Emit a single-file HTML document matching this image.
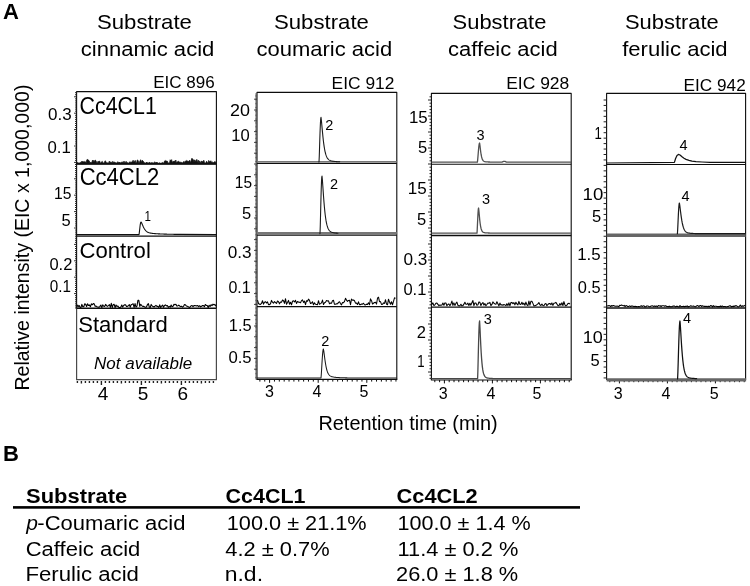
<!DOCTYPE html>
<html><head><meta charset="utf-8"><title>Figure</title>
<style>html,body{margin:0;padding:0;background:#fff}svg{display:block}text{font-family:"Liberation Sans",sans-serif;fill:#000}</style>
</head><body>
<svg width="750" height="586" viewBox="0 0 750 586">
<rect width="750" height="586" fill="#fff"/>
<text transform="translate(2.93,18.80) scale(1.0000,1)" font-size="22" font-weight="bold">A</text>
<text transform="translate(97.00,28.60) scale(1.1085,1)" font-size="20">Substrate</text>
<text transform="translate(80.72,55.50) scale(1.1033,1)" font-size="20">cinnamic acid</text>
<text transform="translate(274.00,28.60) scale(1.1085,1)" font-size="20">Substrate</text>
<text transform="translate(256.52,55.50) scale(1.1005,1)" font-size="20">coumaric acid</text>
<text transform="translate(452.61,28.60) scale(1.0965,1)" font-size="20">Substrate</text>
<text transform="translate(448.12,55.50) scale(1.0993,1)" font-size="20">caffeic acid</text>
<text transform="translate(625.01,28.60) scale(1.0965,1)" font-size="20">Substrate</text>
<text transform="translate(622.18,55.50) scale(1.1040,1)" font-size="20">ferulic acid</text>
<text transform="translate(153.24,88.00) scale(1.0192,1)" font-size="16.7">EIC 896</text>
<text transform="translate(331.61,88.60) scale(1.0412,1)" font-size="16.7">EIC 912</text>
<text transform="translate(506.20,88.80) scale(1.0466,1)" font-size="16.7">EIC 928</text>
<text transform="translate(683.62,91.00) scale(1.0309,1)" font-size="16.7">EIC 942</text>
<text transform="translate(29.00,390.56) rotate(-90) scale(1.0070,1)" font-size="19.4">Relative intensity (EIC x 1,000,000)</text>
<text transform="translate(318.41,429.80) scale(1.0222,1)" font-size="19.5">Retention time (min)</text>
<path d="M76.6 308V91.6H216.4V308" fill="none" stroke="#0d0d0d" stroke-width="1.1" stroke-linejoin="round"/>
<path d="M76.6 308V379.7H216.4V308" fill="none" stroke="#4a4a4a" stroke-width="1.2" stroke-linejoin="round"/>
<line x1="76.60" y1="164.00" x2="216.40" y2="164.00" stroke="#0d0d0d" stroke-width="1.5"/>
<line x1="76.60" y1="236.10" x2="216.40" y2="236.10" stroke="#0d0d0d" stroke-width="1.2"/>
<line x1="76.60" y1="308.30" x2="216.40" y2="308.30" stroke="#0d0d0d" stroke-width="1.4"/>
<path d="M77.40 381.0v1.9M81.40 381.0v2.6M85.40 381.0v1.9M89.40 381.0v1.9M93.40 381.0v1.9M97.40 381.0v1.9M101.40 381.0v4.0M105.40 381.0v1.9M109.40 381.0v1.9M113.40 381.0v1.9M117.40 381.0v1.9M121.40 381.0v2.6M125.40 381.0v1.9M129.40 381.0v1.9M133.40 381.0v1.9M137.40 381.0v1.9M141.40 381.0v4.0M145.40 381.0v1.9M149.40 381.0v1.9M153.40 381.0v1.9M157.40 381.0v1.9M161.40 381.0v2.6M165.40 381.0v1.9M169.40 381.0v1.9M173.40 381.0v1.9M177.40 381.0v1.9M181.40 381.0v4.0M185.40 381.0v1.9M189.40 381.0v1.9M193.40 381.0v1.9M197.40 381.0v1.9M201.40 381.0v2.6M205.40 381.0v1.9M209.40 381.0v1.9M213.40 381.0v1.9" fill="none" stroke="#222" stroke-width="1.4" stroke-linejoin="round"/>
<text transform="translate(97.78,399.60) scale(1.0000,1)" font-size="19">4</text>
<text transform="translate(137.83,399.60) scale(1.0000,1)" font-size="19">5</text>
<text transform="translate(177.53,399.60) scale(1.0000,1)" font-size="19">6</text>
<path d="M257 379.4V92.4H396.8V379.4" fill="none" stroke="#0d0d0d" stroke-width="1.1" stroke-linejoin="round"/>
<line x1="256.50" y1="379.40" x2="397.30" y2="379.40" stroke="#0d0d0d" stroke-width="1.2"/>
<line x1="257.00" y1="163.30" x2="396.80" y2="163.30" stroke="#0d0d0d" stroke-width="1.2"/>
<line x1="257.00" y1="235.10" x2="396.80" y2="235.10" stroke="#0d0d0d" stroke-width="1.2"/>
<line x1="257.00" y1="306.60" x2="396.80" y2="306.60" stroke="#0d0d0d" stroke-width="1.3"/>
<path d="M259.88 379.4v2.2M264.74 379.4v2.2M269.60 379.4v3.4M274.46 379.4v2.2M279.32 379.4v2.2M284.18 379.4v2.2M289.04 379.4v2.2M293.90 379.4v2.2M298.76 379.4v2.2M303.62 379.4v2.2M308.48 379.4v2.2M313.34 379.4v2.2M318.20 379.4v3.4M323.06 379.4v2.2M327.92 379.4v2.2M332.78 379.4v2.2M337.64 379.4v2.2M342.50 379.4v2.2M347.36 379.4v2.2M352.22 379.4v2.2M357.08 379.4v2.2M361.94 379.4v2.2M366.80 379.4v3.4M371.66 379.4v2.2M376.52 379.4v2.2M381.38 379.4v2.2M386.24 379.4v2.2M391.10 379.4v2.2M395.96 379.4v2.2" fill="none" stroke="#0d0d0d" stroke-width="1" stroke-linejoin="round"/>
<text transform="translate(265.10,397.20) scale(1.0000,1)" font-size="16">3</text>
<text transform="translate(312.60,397.20) scale(1.0000,1)" font-size="16">4</text>
<text transform="translate(359.56,397.20) scale(1.0000,1)" font-size="16">5</text>
<path d="M431.4 380.0V93.4H571.2V380.0" fill="none" stroke="#0d0d0d" stroke-width="1.1" stroke-linejoin="round"/>
<line x1="430.90" y1="380.00" x2="571.70" y2="380.00" stroke="#0d0d0d" stroke-width="1.2"/>
<line x1="431.40" y1="164.30" x2="571.20" y2="164.30" stroke="#0d0d0d" stroke-width="1.1"/>
<line x1="431.40" y1="235.50" x2="571.20" y2="235.50" stroke="#0d0d0d" stroke-width="1.3"/>
<line x1="431.40" y1="307.20" x2="571.20" y2="307.20" stroke="#0d0d0d" stroke-width="1.3"/>
<path d="M434.80 380.0v2.2M439.60 380.0v2.2M444.40 380.0v3.4M449.20 380.0v2.2M454.00 380.0v2.2M458.80 380.0v2.2M463.60 380.0v2.2M468.40 380.0v2.2M473.20 380.0v2.2M478.00 380.0v2.2M482.80 380.0v2.2M487.60 380.0v2.2M492.40 380.0v3.4M497.20 380.0v2.2M502.00 380.0v2.2M506.80 380.0v2.2M511.60 380.0v2.2M516.40 380.0v2.2M521.20 380.0v2.2M526.00 380.0v2.2M530.80 380.0v2.2M535.60 380.0v2.2M540.40 380.0v3.4M545.20 380.0v2.2M550.00 380.0v2.2M554.80 380.0v2.2M559.60 380.0v2.2M564.40 380.0v2.2M569.20 380.0v2.2" fill="none" stroke="#0d0d0d" stroke-width="1" stroke-linejoin="round"/>
<text transform="translate(438.70,398.60) scale(1.0000,1)" font-size="16">3</text>
<text transform="translate(486.50,398.60) scale(1.0000,1)" font-size="16">4</text>
<text transform="translate(532.56,398.60) scale(1.0000,1)" font-size="16">5</text>
<path d="M606.6 380.0V93.4H745.6V380.0" fill="none" stroke="#0d0d0d" stroke-width="1.1" stroke-linejoin="round"/>
<line x1="606.10" y1="380.00" x2="746.10" y2="380.00" stroke="#666" stroke-width="0.1"/>
<line x1="606.60" y1="164.50" x2="745.60" y2="164.50" stroke="#0d0d0d" stroke-width="1.2"/>
<line x1="606.60" y1="308.10" x2="745.60" y2="308.10" stroke="#0d0d0d" stroke-width="1.5"/>
<path d="M609.80 380.0v2.2M614.60 380.0v2.2M619.40 380.0v3.4M624.20 380.0v2.2M629.00 380.0v2.2M633.80 380.0v2.2M638.60 380.0v2.2M643.40 380.0v2.2M648.20 380.0v2.2M653.00 380.0v2.2M657.80 380.0v2.2M662.60 380.0v2.2M667.40 380.0v3.4M672.20 380.0v2.2M677.00 380.0v2.2M681.80 380.0v2.2M686.60 380.0v2.2M691.40 380.0v2.2M696.20 380.0v2.2M701.00 380.0v2.2M705.80 380.0v2.2M710.60 380.0v2.2M715.40 380.0v3.4M720.20 380.0v2.2M725.00 380.0v2.2M729.80 380.0v2.2M734.60 380.0v2.2M739.40 380.0v2.2M744.20 380.0v2.2" fill="none" stroke="#0d0d0d" stroke-width="1" stroke-linejoin="round"/>
<text transform="translate(613.70,398.60) scale(1.0000,1)" font-size="16">3</text>
<text transform="translate(661.60,398.60) scale(1.0000,1)" font-size="16">4</text>
<text transform="translate(709.76,398.60) scale(1.0000,1)" font-size="16">5</text>
<path d="M76.60 92.70h-1.6M76.60 94.75h-1.6M76.60 96.80h-2.5M76.60 98.85h-1.6M76.60 100.90h-1.6M76.60 102.95h-1.6M76.60 105.00h-1.6M76.60 107.05h-1.6M76.60 109.10h-1.6M76.60 111.15h-1.6M76.60 113.20h-2.5M76.60 115.25h-1.6M76.60 117.30h-1.6M76.60 119.35h-1.6M76.60 121.40h-1.6M76.60 123.45h-1.6M76.60 125.50h-1.6M76.60 127.55h-1.6M76.60 129.60h-2.5M76.60 131.65h-1.6M76.60 133.70h-1.6M76.60 135.75h-1.6M76.60 137.80h-1.6M76.60 139.85h-1.6M76.60 141.90h-1.6M76.60 143.95h-1.6M76.60 146.00h-2.5M76.60 148.05h-1.6M76.60 150.10h-1.6M76.60 152.15h-1.6M76.60 154.20h-1.6M76.60 156.25h-1.6M76.60 158.30h-1.6M76.60 160.35h-1.6M76.60 162.40h-2.5M76.60 164.45h-1.6M76.60 166.50h-1.6M76.60 168.55h-1.6M76.60 170.60h-1.6M76.60 172.65h-1.6M76.60 174.70h-1.6M76.60 176.75h-1.6M76.60 178.80h-2.5M76.60 180.85h-1.6M76.60 182.90h-1.6M76.60 184.95h-1.6M76.60 187.00h-1.6M76.60 189.05h-1.6M76.60 191.10h-1.6M76.60 193.15h-1.6M76.60 195.20h-2.5M76.60 197.25h-1.6M76.60 199.30h-1.6M76.60 201.35h-1.6M76.60 203.40h-1.6M76.60 205.45h-1.6M76.60 207.50h-1.6M76.60 209.55h-1.6M76.60 211.60h-2.5M76.60 213.65h-1.6M76.60 215.70h-1.6M76.60 217.75h-1.6M76.60 219.80h-1.6M76.60 221.85h-1.6M76.60 223.90h-1.6M76.60 225.95h-1.6M76.60 228.00h-2.5M76.60 230.05h-1.6M76.60 232.10h-1.6M76.60 234.15h-1.6M76.60 236.20h-1.6M76.60 238.25h-1.6M76.60 240.30h-1.6M76.60 242.35h-1.6M76.60 244.40h-2.5M76.60 246.45h-1.6M76.60 248.50h-1.6M76.60 250.55h-1.6M76.60 252.60h-1.6M76.60 254.65h-1.6M76.60 256.70h-1.6M76.60 258.75h-1.6M76.60 260.80h-2.5M76.60 262.85h-1.6M76.60 264.90h-1.6M76.60 266.95h-1.6M76.60 269.00h-1.6M76.60 271.05h-1.6M76.60 273.10h-1.6M76.60 275.15h-1.6M76.60 277.20h-2.5M76.60 279.25h-1.6M76.60 281.30h-1.6M76.60 283.35h-1.6M76.60 285.40h-1.6M76.60 287.45h-1.6M76.60 289.50h-1.6M76.60 291.55h-1.6M76.60 293.60h-2.5M76.60 295.65h-1.6M76.60 297.70h-1.6M76.60 299.75h-1.6M76.60 301.80h-1.6M76.60 303.85h-1.6M76.60 305.90h-1.6M76.60 307.95h-1.6" fill="none" stroke="#222" stroke-width="1.0" stroke-linejoin="round"/>
<path d="M257.00 94.00h-2.0M257.00 95.35h-2.0M257.00 96.70h-2.0M257.00 98.05h-2.0M257.00 99.40h-2.0M257.00 100.75h-2.0M257.00 102.10h-2.0M257.00 103.45h-2.0M257.00 104.80h-2.0M257.00 106.15h-2.0M257.00 107.50h-2.0M257.00 108.85h-2.0M257.00 110.20h-2.0M257.00 111.55h-2.0M257.00 112.90h-2.0M257.00 114.25h-2.0M257.00 115.60h-2.0M257.00 116.95h-2.0M257.00 118.30h-2.0M257.00 119.65h-2.0M257.00 121.00h-2.0M257.00 122.35h-2.0M257.00 123.70h-2.0M257.00 125.05h-2.0M257.00 126.40h-2.0M257.00 127.75h-2.0M257.00 129.10h-2.0M257.00 130.45h-2.0M257.00 131.80h-2.0M257.00 133.15h-2.0M257.00 134.50h-2.0M257.00 135.85h-2.0M257.00 137.20h-2.0M257.00 138.55h-2.0M257.00 139.90h-2.0M257.00 141.25h-2.0M257.00 142.60h-2.0M257.00 143.95h-2.0M257.00 145.30h-2.0M257.00 146.65h-2.0M257.00 148.00h-2.0M257.00 149.35h-2.0M257.00 150.70h-2.0M257.00 152.05h-2.0M257.00 153.40h-2.0M257.00 154.75h-2.0M257.00 156.10h-2.0M257.00 157.45h-2.0M257.00 158.80h-2.0M257.00 160.15h-2.0M257.00 161.50h-2.0M257.00 162.85h-2.0M257.00 164.20h-2.0M257.00 165.55h-2.0M257.00 166.90h-2.0M257.00 168.25h-2.0M257.00 169.60h-2.0M257.00 170.95h-2.0M257.00 172.30h-2.0M257.00 173.65h-2.0M257.00 175.00h-2.0M257.00 176.35h-2.0M257.00 177.70h-2.0M257.00 179.05h-2.0M257.00 180.40h-2.0M257.00 181.75h-2.0M257.00 183.10h-2.0M257.00 184.45h-2.0M257.00 185.80h-2.0M257.00 187.15h-2.0M257.00 188.50h-2.0M257.00 189.85h-2.0M257.00 191.20h-2.0M257.00 192.55h-2.0M257.00 193.90h-2.0M257.00 195.25h-2.0M257.00 196.60h-2.0M257.00 197.95h-2.0M257.00 199.30h-2.0M257.00 200.65h-2.0M257.00 202.00h-2.0M257.00 203.35h-2.0M257.00 204.70h-2.0M257.00 206.05h-2.0M257.00 207.40h-2.0M257.00 208.75h-2.0M257.00 210.10h-2.0M257.00 211.45h-2.0M257.00 212.80h-2.0M257.00 214.15h-2.0M257.00 215.50h-2.0M257.00 216.85h-2.0M257.00 218.20h-2.0M257.00 219.55h-2.0M257.00 220.90h-2.0M257.00 222.25h-2.0M257.00 223.60h-2.0M257.00 224.95h-2.0M257.00 226.30h-2.0M257.00 227.65h-2.0M257.00 229.00h-2.0M257.00 230.35h-2.0M257.00 231.70h-2.0M257.00 233.05h-2.0M257.00 234.40h-2.0M257.00 235.75h-2.0M257.00 237.10h-2.0M257.00 238.45h-2.0M257.00 239.80h-2.0M257.00 241.15h-2.0M257.00 242.50h-2.0M257.00 243.85h-2.0M257.00 245.20h-2.0M257.00 246.55h-2.0M257.00 247.90h-2.0M257.00 249.25h-2.0M257.00 250.60h-2.0M257.00 251.95h-2.0M257.00 253.30h-2.0M257.00 254.65h-2.0M257.00 256.00h-2.0M257.00 257.35h-2.0M257.00 258.70h-2.0M257.00 260.05h-2.0M257.00 261.40h-2.0M257.00 262.75h-2.0M257.00 264.10h-2.0M257.00 265.45h-2.0M257.00 266.80h-2.0M257.00 268.15h-2.0M257.00 269.50h-2.0M257.00 270.85h-2.0M257.00 272.20h-2.0M257.00 273.55h-2.0M257.00 274.90h-2.0M257.00 276.25h-2.0M257.00 277.60h-2.0M257.00 278.95h-2.0M257.00 280.30h-2.0M257.00 281.65h-2.0M257.00 283.00h-2.0M257.00 284.35h-2.0M257.00 285.70h-2.0M257.00 287.05h-2.0M257.00 288.40h-2.0M257.00 289.75h-2.0M257.00 291.10h-2.0M257.00 292.45h-2.0M257.00 293.80h-2.0M257.00 295.15h-2.0M257.00 296.50h-2.0M257.00 297.85h-2.0M257.00 299.20h-2.0M257.00 300.55h-2.0M257.00 301.90h-2.0M257.00 303.25h-2.0M257.00 304.60h-2.0M257.00 305.95h-2.0M257.00 307.30h-2.0M257.00 308.65h-2.0M257.00 310.00h-2.0M257.00 311.35h-2.0M257.00 312.70h-2.0M257.00 314.05h-2.0M257.00 315.40h-2.0M257.00 316.75h-2.0M257.00 318.10h-2.0M257.00 319.45h-2.0M257.00 320.80h-2.0M257.00 322.15h-2.0M257.00 323.50h-2.0M257.00 324.85h-2.0M257.00 326.20h-2.0M257.00 327.55h-2.0M257.00 328.90h-2.0M257.00 330.25h-2.0M257.00 331.60h-2.0M257.00 332.95h-2.0M257.00 334.30h-2.0M257.00 335.65h-2.0M257.00 337.00h-2.0M257.00 338.35h-2.0M257.00 339.70h-2.0M257.00 341.05h-2.0M257.00 342.40h-2.0M257.00 343.75h-2.0M257.00 345.10h-2.0M257.00 346.45h-2.0M257.00 347.80h-2.0M257.00 349.15h-2.0M257.00 350.50h-2.0M257.00 351.85h-2.0M257.00 353.20h-2.0M257.00 354.55h-2.0M257.00 355.90h-2.0M257.00 357.25h-2.0M257.00 358.60h-2.0M257.00 359.95h-2.0M257.00 361.30h-2.0M257.00 362.65h-2.0M257.00 364.00h-2.0M257.00 365.35h-2.0M257.00 366.70h-2.0M257.00 368.05h-2.0M257.00 369.40h-2.0M257.00 370.75h-2.0M257.00 372.10h-2.0M257.00 373.45h-2.0M257.00 374.80h-2.0M257.00 376.15h-2.0M257.00 377.50h-2.0M257.00 378.85h-2.0" fill="none" stroke="#444" stroke-width="0.7" stroke-linejoin="round"/>
<path d="M257.00 99.20h-3.0M257.00 110.00h-3.0M257.00 120.80h-3.0M257.00 131.60h-3.0M257.00 142.40h-3.0M257.00 153.20h-3.0M257.00 164.00h-3.0M257.00 174.80h-3.0M257.00 185.60h-3.0M257.00 196.40h-3.0M257.00 207.20h-3.0M257.00 218.00h-3.0M257.00 228.80h-3.0M257.00 239.60h-3.0M257.00 250.40h-3.0M257.00 261.20h-3.0M257.00 272.00h-3.0M257.00 282.80h-3.0M257.00 293.60h-3.0M257.00 304.40h-3.0M257.00 315.20h-3.0M257.00 326.00h-3.0M257.00 336.80h-3.0M257.00 347.60h-3.0M257.00 358.40h-3.0M257.00 369.20h-3.0" fill="none" stroke="#333" stroke-width="0.9" stroke-linejoin="round"/>
<path d="M431.40 96.80h-1.9M431.40 100.00h-3.4M431.40 103.20h-1.9M431.40 106.40h-1.9M431.40 109.60h-1.9M431.40 112.80h-1.9M431.40 116.00h-3.4M431.40 119.20h-1.9M431.40 122.40h-1.9M431.40 125.60h-1.9M431.40 128.80h-1.9M431.40 132.00h-3.4M431.40 135.20h-1.9M431.40 138.40h-1.9M431.40 141.60h-1.9M431.40 144.80h-1.9M431.40 148.00h-3.4M431.40 151.20h-1.9M431.40 154.40h-1.9M431.40 157.60h-1.9M431.40 160.80h-1.9M431.40 164.00h-3.4M431.40 167.20h-1.9M431.40 170.40h-1.9M431.40 173.60h-1.9M431.40 176.80h-1.9M431.40 180.00h-3.4M431.40 183.20h-1.9M431.40 186.40h-1.9M431.40 189.60h-1.9M431.40 192.80h-1.9M431.40 196.00h-3.4M431.40 199.20h-1.9M431.40 202.40h-1.9M431.40 205.60h-1.9M431.40 208.80h-1.9M431.40 212.00h-3.4M431.40 215.20h-1.9M431.40 218.40h-1.9M431.40 221.60h-1.9M431.40 224.80h-1.9M431.40 228.00h-3.4M431.40 231.20h-1.9M431.40 234.40h-1.9M431.40 237.60h-1.9M431.40 240.80h-1.9M431.40 244.00h-3.4M431.40 247.20h-1.9M431.40 250.40h-1.9M431.40 253.60h-1.9M431.40 256.80h-1.9M431.40 260.00h-3.4M431.40 263.20h-1.9M431.40 266.40h-1.9M431.40 269.60h-1.9M431.40 272.80h-1.9M431.40 276.00h-3.4M431.40 279.20h-1.9M431.40 282.40h-1.9M431.40 285.60h-1.9M431.40 288.80h-1.9M431.40 292.00h-3.4M431.40 295.20h-1.9M431.40 298.40h-1.9M431.40 301.60h-1.9M431.40 304.80h-1.9M431.40 308.00h-3.4M431.40 311.20h-1.9M431.40 314.40h-1.9M431.40 317.60h-1.9M431.40 320.80h-1.9M431.40 324.00h-3.4M431.40 327.20h-1.9M431.40 330.40h-1.9M431.40 333.60h-1.9M431.40 336.80h-1.9M431.40 340.00h-3.4M431.40 343.20h-1.9M431.40 346.40h-1.9M431.40 349.60h-1.9M431.40 352.80h-1.9M431.40 356.00h-3.4M431.40 359.20h-1.9M431.40 362.40h-1.9M431.40 365.60h-1.9M431.40 368.80h-1.9M431.40 372.00h-3.4M431.40 375.20h-1.9M431.40 378.40h-1.9" fill="none" stroke="#111" stroke-width="0.9" stroke-linejoin="round"/>
<path d="M606.60 100.00h-3.0M606.60 105.45h-3.0M606.60 110.90h-3.0M606.60 116.35h-3.0M606.60 121.80h-3.0M606.60 127.25h-3.0M606.60 132.70h-3.0M606.60 138.15h-3.0M606.60 143.60h-3.0M606.60 149.05h-3.0M606.60 154.50h-3.0M606.60 159.95h-3.0M606.60 165.40h-3.0M606.60 170.85h-3.0M606.60 176.30h-3.0M606.60 181.75h-3.0M606.60 187.20h-3.0M606.60 192.65h-3.0M606.60 198.10h-3.0M606.60 203.55h-3.0M606.60 209.00h-3.0M606.60 214.45h-3.0M606.60 219.90h-3.0M606.60 225.35h-3.0M606.60 230.80h-3.0M606.60 236.25h-3.0M606.60 241.70h-3.0M606.60 247.15h-3.0M606.60 252.60h-3.0M606.60 258.05h-3.0M606.60 263.50h-3.0M606.60 268.95h-3.0M606.60 274.40h-3.0M606.60 279.85h-3.0M606.60 285.30h-3.0M606.60 290.75h-3.0M606.60 296.20h-3.0M606.60 301.65h-3.0M606.60 307.10h-3.0M606.60 312.55h-3.0M606.60 318.00h-3.0M606.60 323.45h-3.0M606.60 328.90h-3.0M606.60 334.35h-3.0M606.60 339.80h-3.0M606.60 345.25h-3.0M606.60 350.70h-3.0M606.60 356.15h-3.0M606.60 361.60h-3.0M606.60 367.05h-3.0M606.60 372.50h-3.0M606.60 377.95h-3.0" fill="none" stroke="#222" stroke-width="1.0" stroke-linejoin="round"/>
<text transform="translate(48.00,120.20) scale(1.0324,1)" font-size="16.5">0.3</text>
<text transform="translate(47.41,153.00) scale(1.0178,1)" font-size="16.5">0.1</text>
<text transform="translate(54.02,199.40) scale(0.9502,1)" font-size="16.5">15</text>
<text transform="translate(61.62,225.60) scale(1.0000,1)" font-size="16.5">5</text>
<text transform="translate(49.42,270.00) scale(0.9993,1)" font-size="16.5">0.2</text>
<text transform="translate(49.87,291.80) scale(0.9253,1)" font-size="16.5">0.1</text>
<text transform="translate(230.10,116.00) scale(1.0880,1)" font-size="16.5">20</text>
<text transform="translate(231.16,141.40) scale(1.0061,1)" font-size="16.5">10</text>
<text transform="translate(234.84,188.00) scale(0.9380,1)" font-size="16.5">15</text>
<text transform="translate(242.12,218.60) scale(1.0000,1)" font-size="16.5">5</text>
<text transform="translate(227.80,258.00) scale(1.0416,1)" font-size="16.5">0.3</text>
<text transform="translate(228.44,293.00) scale(0.9715,1)" font-size="16.5">0.1</text>
<text transform="translate(228.76,331.40) scale(0.9982,1)" font-size="16.5">1.5</text>
<text transform="translate(228.41,362.60) scale(1.0139,1)" font-size="16.5">0.5</text>
<text transform="translate(408.93,122.80) scale(1.0233,1)" font-size="16.5">15</text>
<text transform="translate(418.12,152.60) scale(1.0000,1)" font-size="16.5">5</text>
<text transform="translate(407.72,193.60) scale(1.0355,1)" font-size="16.5">15</text>
<text transform="translate(416.92,225.40) scale(1.0000,1)" font-size="16.5">5</text>
<text transform="translate(403.40,264.60) scale(1.0416,1)" font-size="16.5">0.3</text>
<text transform="translate(403.42,295.00) scale(0.9993,1)" font-size="16.5">0.1</text>
<text transform="translate(416.68,338.40) scale(1.0000,1)" font-size="16.5">2</text>
<text transform="translate(417.24,367.00) scale(0.8000,1)" font-size="16.5">1</text>
<text transform="translate(594.44,139.40) scale(0.8000,1)" font-size="16.5">1</text>
<text transform="translate(582.61,199.60) scale(1.1273,1)" font-size="16.5">10</text>
<text transform="translate(591.92,222.00) scale(1.0000,1)" font-size="16.5">5</text>
<text transform="translate(577.13,260.00) scale(1.0267,1)" font-size="16.5">1.5</text>
<text transform="translate(577.83,292.60) scale(0.9955,1)" font-size="16.5">0.5</text>
<text transform="translate(582.65,343.00) scale(1.0909,1)" font-size="16.5">10</text>
<text transform="translate(590.52,365.60) scale(1.0000,1)" font-size="16.5">5</text>
<text transform="translate(79.53,114.20) scale(0.9182,1)" font-size="23.3">Cc4CL1</text>
<text transform="translate(79.70,185.40) scale(0.9451,1)" font-size="23.3">Cc4CL2</text>
<text transform="translate(79.60,257.70) scale(1.0133,1)" font-size="21.8">Control</text>
<text transform="translate(78.21,332.00) scale(0.9943,1)" font-size="22.2">Standard</text>
<text transform="translate(94.09,369.40) scale(0.9811,1)" font-size="17.3" font-style="italic">Not available</text>
<text transform="translate(144.41,220.90) scale(0.8000,1)" font-size="14.5">1</text>
<text transform="translate(325.24,129.90) scale(1.0000,1)" font-size="14.5">2</text>
<text transform="translate(329.94,189.10) scale(1.0000,1)" font-size="14.5">2</text>
<text transform="translate(321.24,345.50) scale(1.0000,1)" font-size="14.5">2</text>
<text transform="translate(476.51,139.90) scale(1.0000,1)" font-size="14.5">3</text>
<text transform="translate(481.91,204.10) scale(1.0000,1)" font-size="14.5">3</text>
<text transform="translate(483.71,324.10) scale(1.0000,1)" font-size="14.5">3</text>
<text transform="translate(679.51,149.90) scale(1.0000,1)" font-size="14.5">4</text>
<text transform="translate(681.61,200.50) scale(1.0000,1)" font-size="14.5">4</text>
<text transform="translate(683.01,323.10) scale(1.0000,1)" font-size="14.5">4</text>
<path d="M76.60 234.60 L138.40 234.60 L139.00 234.60 L139.25 233.09 L139.50 230.99 L139.75 228.73 L140.00 226.57 L140.25 224.69 L140.50 223.23 L140.75 222.31 L141.00 222.00 L141.40 222.47 L141.80 223.28 L142.20 224.20 L142.60 225.15 L143.00 226.07 L143.40 226.94 L143.80 227.75 L144.20 228.48 L144.60 229.14 L145.00 229.73 L145.40 230.24 L145.80 230.69 L146.20 231.08 L146.60 231.42 L147.00 231.72 L147.40 231.97 L147.80 232.19 L148.20 232.38 L148.60 232.54 L149.00 232.68 L149.40 232.81 L149.80 232.91 L150.20 233.01 L150.60 233.09 L151.00 233.16 L151.40 233.23 L151.80 233.29 L152.20 233.34 L152.60 233.39 L153.00 233.43 L153.40 233.48 L153.80 233.51 L154.20 233.55 L154.60 233.58 L155.00 233.62 L155.40 233.65 L155.80 233.68 L156.20 233.70 L156.60 233.73 L157.00 233.76 L157.40 233.78 L157.80 233.80 L158.20 233.83 L158.60 233.85 L159.00 233.87 L159.40 233.89 L159.80 233.91 L160.20 233.93 L160.60 233.95 L161.00 233.97 L161.40 233.98 L161.80 234.00 L162.20 234.02 L162.60 234.03 L163.00 234.05 L163.40 234.06 L163.80 234.08 L164.20 234.09 L164.60 234.11 L165.00 234.12 L165.40 234.13 L165.80 234.14 L166.20 234.16 L166.60 234.17 L167.00 234.18 L167.40 234.19 L167.80 234.20 L168.20 234.21 L168.60 234.22 L169.00 234.23 L169.40 234.24 L169.80 234.25 L170.20 234.26 L170.60 234.27 L171.00 234.28 L171.40 234.29 L171.80 234.29 L172.20 234.30 L172.60 234.31 L173.00 234.32 L173.40 234.32 L173.80 234.33 L174.20 234.34 L174.60 234.35 L175.00 234.35 L175.40 234.36 L175.80 234.36 L176.20 234.37 L176.60 234.38 L177.00 234.38 L177.40 234.39 L177.80 234.39 L178.20 234.40 L178.60 234.40 L179.00 234.41 L179.40 234.41 L179.80 234.42 L180.20 234.42 L216.40 234.60" fill="none" stroke="#111" stroke-width="1.1" stroke-linejoin="round"/>
<line x1="257.00" y1="161.80" x2="396.80" y2="161.80" stroke="#777" stroke-width="1.5"/>
<path d="M318.40 162.00 L318.40 162.00 L319.00 162.00 L319.25 156.67 L319.50 149.21 L319.75 141.23 L320.00 133.58 L320.25 126.91 L320.50 121.76 L320.75 118.51 L321.00 117.40 L321.40 120.48 L321.80 124.71 L322.20 129.12 L322.60 133.39 L323.00 137.35 L323.40 140.94 L323.80 144.11 L324.20 146.87 L324.60 149.25 L325.00 151.28 L325.40 153.00 L325.80 154.43 L326.20 155.64 L326.60 156.63 L327.00 157.46 L327.40 158.14 L327.80 158.71 L328.20 159.17 L328.60 159.56 L329.00 159.87 L329.40 160.14 L329.80 160.36 L330.20 160.54 L330.60 160.70 L331.00 160.83 L331.40 160.94 L331.80 161.04 L332.20 161.12 L332.60 161.20 L333.00 161.26 L333.40 161.32 L333.80 161.38 L334.20 161.42 L334.60 161.47 L335.00 161.50 L335.40 161.54 L335.80 161.57 L336.20 161.60 L336.60 161.63 L337.00 161.66 L337.40 161.68 L337.80 161.70 L338.20 161.72 L338.60 161.74 L339.00 161.76 L339.40 161.77 L339.80 161.79 L340.00 162.00" fill="none" stroke="#1a1a1a" stroke-width="1.1" stroke-linejoin="round"/>
<line x1="257.00" y1="233.20" x2="396.80" y2="233.20" stroke="#777" stroke-width="2.4"/>
<path d="M319.40 233.60 L319.40 233.60 L320.00 233.60 L320.25 226.72 L320.50 217.08 L320.75 206.77 L321.00 196.89 L321.25 188.29 L321.50 181.63 L321.75 177.43 L322.00 176.00 L322.40 180.14 L322.80 185.75 L323.20 191.57 L323.60 197.18 L324.00 202.37 L324.40 207.03 L324.80 211.15 L325.20 214.72 L325.60 217.79 L326.00 220.39 L326.40 222.58 L326.80 224.41 L327.20 225.93 L327.60 227.18 L328.00 228.22 L328.40 229.07 L328.80 229.76 L329.20 230.33 L329.60 230.80 L330.00 231.19 L330.40 231.50 L330.80 231.77 L331.20 231.98 L331.60 232.17 L332.00 232.32 L332.40 232.45 L332.80 232.56 L333.20 232.66 L333.60 232.74 L334.00 232.81 L334.40 232.88 L334.80 232.94 L335.20 232.99 L335.60 233.04 L336.00 233.08 L336.40 233.12 L336.80 233.15 L337.20 233.18 L337.60 233.21 L338.00 233.24 L338.00 233.60" fill="none" stroke="#1a1a1a" stroke-width="1.1" stroke-linejoin="round"/>
<path d="M257.00 378.00 L320.40 378.00 L321.00 378.00 L321.30 374.53 L321.60 369.68 L321.90 364.49 L322.20 359.52 L322.50 355.19 L322.80 351.84 L323.10 349.72 L323.40 349.00 L323.80 351.17 L324.20 354.17 L324.60 357.27 L325.00 360.21 L325.40 362.88 L325.80 365.25 L326.20 367.29 L326.60 369.03 L327.00 370.49 L327.40 371.71 L327.80 372.71 L328.20 373.53 L328.60 374.21 L329.00 374.76 L329.40 375.20 L329.80 375.57 L330.20 375.87 L330.60 376.11 L331.00 376.32 L331.40 376.49 L331.80 376.63 L332.20 376.75 L332.60 376.86 L333.00 376.95 L333.40 377.03 L333.80 377.10 L334.20 377.16 L334.60 377.22 L335.00 377.27 L335.40 377.32 L335.80 377.36 L336.20 377.41 L336.60 377.44 L337.00 377.48 L337.40 377.51 L337.80 377.54 L338.20 377.57 L338.60 377.60 L339.00 377.62 L339.40 377.64 L339.80 377.67 L340.20 377.69 L340.60 377.70 L341.00 377.72 L341.40 377.74 L341.80 377.76 L342.20 377.77 L342.60 377.78 L343.00 377.80 L343.40 377.81 L343.80 377.82 L344.20 377.83 L344.60 377.84 L345.00 377.85 L345.40 377.86 L345.80 377.87 L346.20 377.88 L346.60 377.88 L347.00 377.89 L347.40 377.90 L396.80 378.00" fill="none" stroke="#1a1a1a" stroke-width="1.05" stroke-linejoin="round"/>
<path d="M431.40 162.10 L476.80 162.10 L477.40 162.10 L477.67 159.82 L477.95 156.62 L478.23 153.20 L478.50 149.93 L478.77 147.07 L479.05 144.87 L479.33 143.48 L479.60 143.00 L480.00 145.96 L480.40 149.41 L480.80 152.48 L481.20 154.99 L481.60 156.92 L482.00 158.37 L482.40 159.42 L482.80 160.18 L483.20 160.70 L483.60 161.07 L484.00 161.33 L484.40 161.51 L484.80 161.63 L485.20 161.72 L485.60 161.79 L486.00 161.84 L486.40 161.88 L486.80 161.91 L487.20 161.93 L487.60 161.95 L488.00 161.97 L488.40 161.98 L488.80 162.00 L489.20 162.01 L489.60 162.02 L490.00 162.03 L490.40 162.04 L502.00 162.10 L503.50 161.40 L505.00 161.40 L506.50 162.10 L571.20 162.10" fill="none" stroke="#505050" stroke-width="1.3" stroke-linejoin="round"/>
<path d="M431.40 233.10 L476.40 233.10 L477.00 233.10 L477.20 230.10 L477.40 225.90 L477.60 221.41 L477.80 217.10 L478.00 213.35 L478.20 210.45 L478.40 208.63 L478.60 208.00 L479.00 211.89 L479.40 216.43 L479.80 220.46 L480.20 223.75 L480.60 226.30 L481.00 228.20 L481.40 229.58 L481.80 230.57 L482.20 231.26 L482.60 231.75 L483.00 232.09 L483.40 232.32 L483.80 232.49 L484.20 232.60 L484.60 232.69 L485.00 232.76 L485.40 232.81 L485.80 232.85 L486.20 232.88 L486.60 232.91 L487.00 232.93 L487.40 232.95 L487.80 232.97 L488.20 232.98 L488.60 232.99 L489.00 233.01 L489.40 233.02 L489.80 233.03 L490.20 233.03 L490.60 233.04 L491.00 233.05 L491.40 233.05 L571.20 233.10" fill="none" stroke="#505050" stroke-width="1.3" stroke-linejoin="round"/>
<path d="M431.40 378.70 L477.00 378.70 L477.60 378.70 L477.85 371.81 L478.10 362.15 L478.35 351.83 L478.60 341.93 L478.85 333.31 L479.10 326.64 L479.35 322.44 L479.60 321.00 L480.00 328.31 L480.40 337.19 L480.80 345.50 L481.20 352.70 L481.60 358.63 L482.00 363.38 L482.40 367.08 L482.80 369.92 L483.20 372.06 L483.60 373.65 L484.00 374.84 L484.40 375.71 L484.80 376.35 L485.20 376.82 L485.60 377.17 L486.00 377.43 L486.40 377.63 L486.80 377.79 L487.20 377.91 L487.60 378.01 L488.00 378.09 L488.40 378.16 L488.80 378.22 L489.20 378.27 L489.60 378.31 L490.00 378.35 L490.40 378.38 L490.80 378.41 L491.20 378.44 L491.60 378.47 L492.00 378.49 L492.40 378.51 L492.80 378.53 L493.20 378.54 L493.60 378.56 L494.00 378.57 L494.40 378.58 L571.20 378.70" fill="none" stroke="#484848" stroke-width="1.3" stroke-linejoin="round"/>
<path d="M606.60 163.00 L674.40 162.40 L675.60 158.50 L677.00 155.40 L678.40 154.40 L680.00 155.00 L682.00 156.80 L684.00 158.30 L686.00 159.40 L689.00 160.40 L692.00 161.20 L696.00 161.70 L702.00 162.00 L710.00 162.30 L745.60 162.40" fill="none" stroke="#111" stroke-width="1.25" stroke-linejoin="round"/>
<line x1="606.60" y1="235.20" x2="745.60" y2="235.20" stroke="#666" stroke-width="3.4"/>
<path d="M676.80 233.70 L676.80 233.70 L677.40 233.70 L677.65 230.03 L677.90 224.89 L678.15 219.40 L678.40 214.14 L678.65 209.55 L678.90 206.00 L679.15 203.76 L679.40 203.00 L679.80 205.50 L680.20 208.74 L680.60 212.02 L681.00 215.12 L681.40 217.95 L681.80 220.46 L682.20 222.65 L682.60 224.52 L683.00 226.11 L683.40 227.44 L683.80 228.55 L684.20 229.46 L684.60 230.21 L685.00 230.82 L685.40 231.31 L685.80 231.71 L686.20 232.04 L686.60 232.30 L687.00 232.51 L687.40 232.68 L687.80 232.82 L688.20 232.93 L688.60 233.03 L689.00 233.10 L689.40 233.17 L689.80 233.22 L690.20 233.27 L690.60 233.31 L691.00 233.34 L691.40 233.37 L691.80 233.40 L692.20 233.42 L692.60 233.44 L693.00 233.46 L693.40 233.48 L693.80 233.49 L694.20 233.51 L694.60 233.52 L695.00 233.53 L695.40 233.54 L695.80 233.56 L696.20 233.57 L696.60 233.57 L697.00 233.58 L697.40 233.59 L697.80 233.60 L698.20 233.60 L698.60 233.61 L699.00 233.62 L699.40 233.62 L699.80 233.63 L700.20 233.63 L745.60 233.70" fill="none" stroke="#1a1a1a" stroke-width="1.2" stroke-linejoin="round"/>
<line x1="606.60" y1="379.80" x2="746.10" y2="379.80" stroke="#666" stroke-width="3.2"/>
<path d="M677.00 378.80 L677.00 378.80 L677.60 378.80 L677.90 371.89 L678.20 362.22 L678.50 351.88 L678.80 341.97 L679.10 333.33 L679.40 326.65 L679.70 322.44 L680.00 321.00 L680.40 326.20 L680.80 332.83 L681.20 339.46 L681.60 345.64 L682.00 351.17 L682.40 355.99 L682.80 360.10 L683.20 363.55 L683.60 366.41 L684.00 368.76 L684.40 370.67 L684.80 372.21 L685.20 373.45 L685.60 374.43 L686.00 375.21 L686.40 375.84 L686.80 376.33 L687.20 376.72 L687.60 377.04 L688.00 377.29 L688.40 377.49 L688.80 377.65 L689.20 377.79 L689.60 377.90 L690.00 377.99 L690.40 378.07 L690.80 378.14 L691.20 378.20 L691.60 378.25 L692.00 378.29 L692.40 378.33 L692.80 378.37 L693.20 378.40 L693.60 378.43 L694.00 378.46 L694.40 378.49 L694.80 378.51 L695.20 378.53 L695.60 378.55 L696.00 378.57 L696.40 378.58 L696.80 378.60 L697.00 378.80" fill="none" stroke="#111" stroke-width="1.25" stroke-linejoin="round"/>
<path d="M77.10 162.20 L77.80 163.22 L78.50 162.96 L79.20 162.84 L79.90 163.26 L80.60 162.26 L81.30 162.31 L82.00 161.10 L82.70 162.04 L83.40 161.66 L84.10 162.06 L84.80 161.44 L85.50 162.03 L86.20 162.56 L86.90 159.69 L87.60 159.51 L88.30 160.05 L89.00 160.53 L89.70 162.20 L90.40 162.52 L91.10 162.22 L91.80 163.11 L92.50 160.18 L93.20 161.95 L93.90 160.17 L94.60 162.15 L95.30 160.11 L96.00 160.74 L96.70 163.30 L97.40 162.89 L98.10 161.14 L98.80 162.32 L99.50 160.90 L100.20 162.48 L100.90 163.19 L101.60 161.86 L102.30 161.42 L103.00 162.77 L103.70 163.16 L104.40 162.61 L105.10 160.80 L105.80 161.40 L106.50 163.09 L107.20 162.79 L107.90 163.12 L108.60 163.20 L109.30 161.14 L110.00 162.94 L110.70 161.85 L111.40 162.17 L112.10 162.89 L112.80 161.36 L113.50 163.07 L114.20 161.84 L114.90 163.13 L115.60 162.55 L116.30 162.99 L117.00 162.93 L117.70 161.74 L118.40 162.19 L119.10 163.00 L119.80 162.08 L120.50 163.06 L121.20 162.75 L121.90 161.80 L122.60 162.15 L123.30 163.17 L124.00 161.11 L124.70 162.93 L125.40 162.81 L126.10 161.37 L126.80 162.59 L127.50 162.66 L128.20 163.18 L128.90 163.14 L129.60 161.77 L130.30 162.76 L131.00 161.65 L131.70 162.36 L132.40 162.08 L133.10 160.25 L133.80 161.92 L134.50 161.57 L135.20 160.39 L135.90 162.84 L136.60 162.92 L137.30 159.99 L138.00 160.32 L138.70 162.57 L139.40 162.76 L140.10 160.48 L140.80 159.82 L141.50 162.81 L142.20 160.36 L142.90 160.87 L143.60 161.93 L144.30 162.52 L145.00 163.17 L145.70 163.27 L146.40 162.07 L147.10 163.12 L147.80 162.60 L148.50 163.08 L149.20 162.35 L149.90 162.61 L150.60 162.99 L151.30 163.12 L152.00 162.29 L152.70 163.24 L153.40 163.02 L154.10 162.44 L154.80 161.94 L155.50 162.43 L156.20 162.98 L156.90 162.02 L157.60 163.10 L158.30 163.29 L159.00 163.05 L159.70 162.87 L160.40 163.26 L161.10 163.18 L161.80 162.91 L162.50 162.48 L163.20 163.13 L163.90 162.64 L164.60 161.07 L165.30 160.49 L166.00 161.37 L166.70 161.05 L167.40 161.29 L168.10 162.91 L168.80 163.23 L169.50 163.27 L170.20 159.77 L170.90 160.76 L171.60 159.64 L172.30 163.26 L173.00 161.14 L173.70 161.78 L174.40 160.84 L175.10 162.41 L175.80 160.04 L176.50 163.17 L177.20 161.98 L177.90 161.60 L178.60 161.37 L179.30 161.97 L180.00 162.22 L180.70 162.25 L181.40 162.29 L182.10 163.06 L182.80 162.49 L183.50 161.80 L184.20 161.50 L184.90 162.41 L185.60 161.06 L186.30 160.45 L187.00 161.34 L187.70 160.88 L188.40 161.83 L189.10 160.63 L189.80 160.49 L190.50 163.05 L191.20 160.34 L191.90 158.28 L192.60 158.97 L193.30 159.86 L194.00 161.68 L194.70 159.83 L195.40 160.69 L196.10 161.43 L196.80 159.39 L197.50 163.06 L198.20 160.12 L198.90 163.24 L199.60 161.04 L200.30 161.64 L201.00 162.64 L201.70 160.92 L202.40 161.79 L203.10 161.45 L203.80 160.31 L204.50 162.66 L205.20 163.28 L205.90 162.53 L206.60 161.27 L207.30 162.83 L208.00 162.92 L208.70 160.48 L209.40 161.39 L210.10 162.12 L210.80 160.74 L211.50 162.58 L212.20 161.74 L212.90 162.96 L213.60 162.51 L214.30 161.79 L215.00 161.71 L215.70 161.95 L215.90 164 L77.10 164Z" fill="#111" stroke="#111" stroke-width="0.8" stroke-linejoin="round"/>
<path d="M77.10 304.78 L78.05 307.10 L79.00 305.36 L79.95 307.13 L80.90 307.59 L81.85 304.33 L82.80 306.80 L83.75 306.77 L84.70 303.80 L85.65 304.20 L86.60 306.47 L87.55 303.82 L88.50 305.47 L89.45 304.91 L90.40 306.78 L91.35 303.81 L92.30 304.78 L93.25 303.60 L94.20 303.85 L95.15 306.33 L96.10 306.04 L97.05 306.88 L98.00 306.96 L98.95 307.32 L99.90 306.31 L100.85 305.06 L101.80 307.59 L102.75 304.86 L103.70 306.26 L104.65 306.39 L105.60 304.41 L106.55 305.70 L107.50 306.33 L108.45 305.63 L109.40 304.66 L110.35 307.36 L111.30 303.40 L112.25 307.50 L113.20 304.56 L114.15 304.41 L115.10 307.54 L116.05 305.07 L117.00 306.52 L117.95 306.06 L118.90 307.58 L119.85 307.49 L120.80 307.14 L121.75 305.08 L122.70 307.06 L123.65 305.44 L124.60 304.84 L125.55 304.69 L126.50 306.49 L127.45 306.39 L128.40 305.73 L129.35 304.69 L130.30 307.18 L131.25 304.54 L132.20 304.20 L133.15 303.79 L134.10 307.44 L135.05 303.62 L136.00 307.23 L136.95 306.24 L137.90 300.40 L138.85 300.40 L139.80 306.36 L140.75 304.20 L141.70 305.54 L142.65 306.39 L143.60 306.35 L144.55 306.88 L145.50 307.28 L146.45 306.97 L147.40 304.69 L148.35 303.64 L149.30 307.00 L150.25 307.43 L151.20 304.43 L152.15 306.02 L153.10 306.50 L154.05 307.02 L155.00 306.10 L155.95 305.43 L156.90 306.36 L157.85 306.41 L158.80 307.44 L159.75 304.83 L160.70 307.50 L161.65 306.06 L162.60 305.04 L163.55 307.21 L164.50 305.46 L165.45 304.89 L166.40 305.84 L167.35 305.45 L168.30 307.31 L169.25 306.39 L170.20 307.17 L171.15 305.10 L172.10 306.70 L173.05 306.17 L174.00 304.37 L174.95 304.76 L175.90 304.33 L176.85 306.08 L177.80 305.95 L178.75 305.13 L179.70 305.98 L180.65 306.61 L181.60 306.22 L182.55 307.11 L183.50 306.40 L184.45 304.59 L185.40 304.82 L186.35 305.88 L187.30 306.31 L188.25 306.77 L189.20 307.39 L190.15 306.96 L191.10 305.73 L192.05 305.49 L193.00 306.70 L193.95 305.62 L194.90 305.61 L195.85 305.79 L196.80 305.86 L197.75 305.59 L198.70 306.63 L199.65 305.71 L200.60 306.84 L201.55 306.28 L202.50 305.50 L203.45 305.65 L204.40 306.71 L205.35 304.52 L206.30 305.34 L207.25 305.45 L208.20 307.55 L209.15 305.34 L210.10 306.51 L211.05 304.72 L212.00 305.64 L212.95 304.19 L213.90 304.93 L214.85 304.36 L215.80 306.21" fill="none" stroke="#000" stroke-width="1.1" stroke-linejoin="round"/>
<path d="M257.50 300.20 L258.50 303.50 L259.50 304.26 L260.50 304.39 L261.50 303.46 L262.50 300.77 L263.50 304.13 L264.50 302.14 L265.50 301.68 L266.50 303.03 L267.50 301.91 L268.50 304.61 L269.50 304.62 L270.50 303.74 L271.50 300.41 L272.50 302.32 L273.50 303.14 L274.50 301.58 L275.50 302.52 L276.50 303.47 L277.50 300.94 L278.50 301.66 L279.50 303.83 L280.50 302.05 L281.50 302.20 L282.50 299.98 L283.50 300.71 L284.50 303.34 L285.50 298.66 L286.50 304.30 L287.50 302.53 L288.50 300.42 L289.50 304.15 L290.50 302.21 L291.50 304.74 L292.50 301.24 L293.50 300.75 L294.50 301.95 L295.50 300.32 L296.50 303.45 L297.50 301.52 L298.50 302.13 L299.50 302.28 L300.50 302.80 L301.50 300.61 L302.50 299.82 L303.50 302.43 L304.50 301.18 L305.50 304.62 L306.50 300.66 L307.50 301.16 L308.50 299.12 L309.50 300.38 L310.50 303.55 L311.50 303.09 L312.50 301.72 L313.50 304.83 L314.50 302.80 L315.50 304.19 L316.50 304.40 L317.50 304.66 L318.50 300.70 L319.50 304.29 L320.50 303.62 L321.50 302.84 L322.50 300.06 L323.50 304.56 L324.50 302.70 L325.50 302.25 L326.50 300.57 L327.50 301.05 L328.50 300.81 L329.50 303.72 L330.50 303.07 L331.50 303.34 L332.50 300.68 L333.50 300.29 L334.50 304.29 L335.50 304.16 L336.50 303.87 L337.50 303.83 L338.50 302.43 L339.50 301.76 L340.50 303.57 L341.50 304.89 L342.50 302.53 L343.50 302.75 L344.50 301.33 L345.50 298.34 L346.50 300.13 L347.50 301.32 L348.50 300.39 L349.50 300.17 L350.50 304.62 L351.50 299.12 L352.50 300.26 L353.50 299.97 L354.50 300.75 L355.50 303.14 L356.50 303.09 L357.50 304.49 L358.50 301.84 L359.50 304.66 L360.50 304.64 L361.50 303.98 L362.50 304.19 L363.50 303.24 L364.50 304.68 L365.50 304.90 L366.50 304.14 L367.50 304.39 L368.50 302.75 L369.50 304.78 L370.50 298.88 L371.50 300.70 L372.50 303.99 L373.50 303.23 L374.50 302.46 L375.50 302.26 L376.50 304.08 L377.50 298.22 L378.50 297.20 L379.50 301.66 L380.50 301.63 L381.50 304.43 L382.50 304.35 L383.50 302.88 L384.50 303.41 L385.50 299.74 L386.50 304.06 L387.50 304.80 L388.50 299.19 L389.50 301.96 L390.50 304.20 L391.50 301.74 L392.50 304.78 L393.50 301.47 L394.50 297.79 L395.50 298.39" fill="none" stroke="#000" stroke-width="1.05" stroke-linejoin="round"/>
<path d="M431.90 304.42 L432.90 302.86 L433.90 305.56 L434.90 304.84 L435.90 303.26 L436.90 303.06 L437.90 304.35 L438.90 305.63 L439.90 305.00 L440.90 305.22 L441.90 304.99 L442.90 303.04 L443.90 305.30 L444.90 302.90 L445.90 303.00 L446.90 305.75 L447.90 304.52 L448.90 303.91 L449.90 305.82 L450.90 303.95 L451.90 301.11 L452.90 305.39 L453.90 302.89 L454.90 305.42 L455.90 303.39 L456.90 302.18 L457.90 305.24 L458.90 305.88 L459.90 305.70 L460.90 304.23 L461.90 305.86 L462.90 305.66 L463.90 304.13 L464.90 302.24 L465.90 304.29 L466.90 304.31 L467.90 303.11 L468.90 305.55 L469.90 303.17 L470.90 305.15 L471.90 302.78 L472.90 300.56 L473.90 305.67 L474.90 303.06 L475.90 302.98 L476.90 305.32 L477.90 304.88 L478.90 301.97 L479.90 302.32 L480.90 305.58 L481.90 303.58 L482.90 302.50 L483.90 305.12 L484.90 303.59 L485.90 305.77 L486.90 304.46 L487.90 302.96 L488.90 303.34 L489.90 302.43 L490.90 305.59 L491.90 304.44 L492.90 301.90 L493.90 303.29 L494.90 303.92 L495.90 304.24 L496.90 301.67 L497.90 303.69 L498.90 305.85 L499.90 303.08 L500.90 304.91 L501.90 304.64 L502.90 305.30 L503.90 304.51 L504.90 304.88 L505.90 305.65 L506.90 303.65 L507.90 305.58 L508.90 302.86 L509.90 305.83 L510.90 302.63 L511.90 302.39 L512.90 303.77 L513.90 302.64 L514.90 304.84 L515.90 302.28 L516.90 303.97 L517.90 304.94 L518.90 301.39 L519.90 304.23 L520.90 304.40 L521.90 302.24 L522.90 304.49 L523.90 303.12 L524.90 305.26 L525.90 302.08 L526.90 304.83 L527.90 305.72 L528.90 301.03 L529.90 305.15 L530.90 301.30 L531.90 301.33 L532.90 303.37 L533.90 305.87 L534.90 305.72 L535.90 305.25 L536.90 304.70 L537.90 303.92 L538.90 302.59 L539.90 304.79 L540.90 305.50 L541.90 304.03 L542.90 305.50 L543.90 305.66 L544.90 304.05 L545.90 303.56 L546.90 305.73 L547.90 304.48 L548.90 303.61 L549.90 303.43 L550.90 304.76 L551.90 302.89 L552.90 305.39 L553.90 303.31 L554.90 302.96 L555.90 302.37 L556.90 303.95 L557.90 305.56 L558.90 305.74 L559.90 303.51 L560.90 305.17 L561.90 302.75 L562.90 305.54 L563.90 301.58 L564.90 304.77 L565.90 305.85 L566.90 305.08 L567.90 303.63 L568.90 303.16 L569.90 304.13" fill="none" stroke="#000" stroke-width="1.05" stroke-linejoin="round"/>
<path d="M607.10 305.90 L608.00 305.94 L608.90 305.60 L609.80 305.75 L610.70 306.51 L611.60 305.53 L612.50 306.07 L613.40 305.56 L614.30 305.86 L615.20 306.11 L616.10 306.23 L617.00 306.11 L617.90 306.32 L618.80 306.68 L619.70 305.39 L620.60 305.43 L621.50 305.07 L622.40 305.59 L623.30 305.83 L624.20 305.43 L625.10 306.63 L626.00 305.52 L626.90 305.98 L627.80 306.53 L628.70 306.49 L629.60 305.90 L630.50 306.45 L631.40 306.14 L632.30 305.98 L633.20 306.35 L634.10 306.73 L635.00 306.34 L635.90 306.63 L636.80 306.63 L637.70 306.68 L638.60 306.48 L639.50 306.82 L640.40 306.14 L641.30 305.79 L642.20 306.44 L643.10 306.07 L644.00 305.83 L644.90 306.85 L645.80 306.74 L646.70 306.00 L647.60 305.98 L648.50 306.21 L649.40 306.73 L650.30 306.45 L651.20 305.94 L652.10 305.91 L653.00 305.99 L653.90 306.67 L654.80 305.92 L655.70 306.46 L656.60 306.02 L657.50 306.72 L658.40 305.52 L659.30 305.99 L660.20 305.74 L661.10 306.54 L662.00 305.79 L662.90 305.80 L663.80 305.81 L664.70 306.28 L665.60 305.72 L666.50 306.39 L667.40 306.49 L668.30 306.69 L669.20 306.10 L670.10 306.78 L671.00 306.65 L671.90 306.82 L672.80 306.08 L673.70 306.16 L674.60 306.14 L675.50 306.84 L676.40 306.22 L677.30 306.36 L678.20 306.76 L679.10 306.90 L680.00 305.49 L680.90 306.74 L681.80 306.51 L682.70 306.57 L683.60 306.19 L684.50 306.81 L685.40 306.35 L686.30 306.47 L687.20 305.90 L688.10 306.89 L689.00 306.49 L689.90 306.29 L690.80 305.69 L691.70 306.24 L692.60 306.29 L693.50 306.02 L694.40 306.50 L695.30 306.86 L696.20 306.20 L697.10 305.61 L698.00 305.84 L698.90 306.51 L699.80 305.80 L700.70 305.47 L701.60 306.44 L702.50 305.81 L703.40 306.21 L704.30 306.40 L705.20 306.30 L706.10 306.48 L707.00 306.20 L707.90 306.83 L708.80 306.15 L709.70 306.74 L710.60 305.54 L711.50 305.85 L712.40 306.89 L713.30 305.67 L714.20 306.62 L715.10 306.23 L716.00 306.18 L716.90 306.50 L717.80 306.58 L718.70 306.46 L719.60 306.77 L720.50 306.02 L721.40 306.78 L722.30 306.01 L723.20 306.66 L724.10 306.55 L725.00 306.44 L725.90 306.86 L726.80 306.74 L727.70 306.47 L728.60 306.38 L729.50 305.89 L730.40 305.77 L731.30 306.85 L732.20 306.31 L733.10 306.76 L734.00 305.92 L734.90 306.46 L735.80 305.56 L736.70 306.01 L737.60 306.68 L738.50 306.89 L739.40 306.39 L740.30 305.02 L741.20 306.58 L742.10 305.88 L743.00 306.11 L743.90 306.17 L744.80 305.22" fill="none" stroke="#000" stroke-width="1.1" stroke-linejoin="round"/>
<rect x="13" y="506.1" width="567" height="2.6" fill="#000"/>
<text transform="translate(3.00,460.50) scale(1.0000,1)" font-size="22" font-weight="bold">B</text>
<text transform="translate(26.05,503.40) scale(1.0454,1)" font-size="21" font-weight="bold">Substrate</text>
<text transform="translate(225.54,503.40) scale(1.0226,1)" font-size="21" font-weight="bold">Cc4CL1</text>
<text transform="translate(396.53,503.40) scale(1.0385,1)" font-size="21" font-weight="bold">Cc4CL2</text>
<text transform="translate(26.15,529.60) scale(1.0000,1)" font-size="21" font-style="italic">p</text>
<text transform="translate(37.32,529.60) scale(1.0494,1)" font-size="21">-Coumaric acid</text>
<text transform="translate(226.77,529.60) scale(1.0343,1)" font-size="21">100.0 ± 21.1%</text>
<text transform="translate(397.58,529.60) scale(1.0287,1)" font-size="21">100.0 ± 1.4 %</text>
<text transform="translate(25.70,555.60) scale(1.0486,1)" font-size="21">Caffeic acid</text>
<text transform="translate(225.36,555.60) scale(1.0412,1)" font-size="21">4.2 ± 0.7%</text>
<text transform="translate(397.56,555.60) scale(1.0393,1)" font-size="21">11.4 ± 0.2 %</text>
<text transform="translate(25.42,581.40) scale(1.0578,1)" font-size="21">Ferulic acid</text>
<text transform="translate(224.71,581.40) scale(1.0938,1)" font-size="21">n.d.</text>
<text transform="translate(396.11,581.40) scale(1.0377,1)" font-size="21">26.0 ± 1.8 %</text>
</svg>
</body></html>
